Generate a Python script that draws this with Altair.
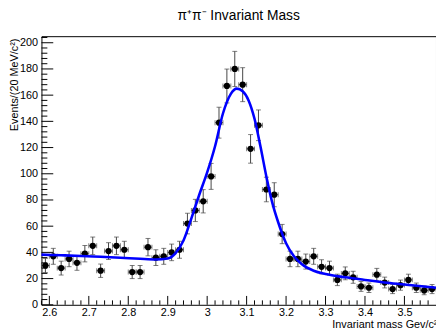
import altair as alt
import pandas as pd

# ---- data ----
bin_centers = [2.59, 2.61, 2.63, 2.65, 2.67, 2.69, 2.71, 2.73, 2.75, 2.77,
               2.79, 2.81, 2.83, 2.85, 2.87, 2.89, 2.91, 2.93, 2.95, 2.97,
               2.99, 3.01, 3.03, 3.05, 3.07, 3.09, 3.11, 3.13, 3.15, 3.17,
               3.19, 3.21, 3.23, 3.25, 3.27, 3.29, 3.31, 3.33, 3.35, 3.37,
               3.39, 3.41, 3.43, 3.45, 3.47, 3.49, 3.51, 3.53, 3.55, 3.57]
counts = [30, 37, 28, 35, 32, 39, 45, 26, 41, 45,
          42, 25, 25, 44, 36, 37, 40, 42, 62, 72,
          79, 98, 139, 167, 180, 168, 119, 137, 88, 84,
          54, 35, 35, 33, 37, 29, 28, 19, 24, 21,
          14, 13, 23, 17, 12, 15, 19, 13, 11, 12]
half_bin = 0.01

fit_mass = [2.58, 2.63, 2.68, 2.73, 2.78, 2.83, 2.87, 2.90, 2.92, 2.94,
            2.96, 2.98, 3.00, 3.02, 3.04, 3.06, 3.075, 3.09, 3.105, 3.12,
            3.135, 3.15, 3.165, 3.18, 3.20, 3.22, 3.24, 3.27, 3.30, 3.35,
            3.40, 3.45, 3.50, 3.58]
fit_vals = [38.3, 37.8, 37.3, 36.6, 35.9, 35.1, 34.6, 35.3, 39.5, 49,
            66, 84, 101, 121, 146, 161, 165, 163, 156, 142,
            121, 98, 78, 63, 47, 37, 31, 26, 23.5, 21,
            19, 17, 15.5, 13]

x_major = [2.6, 2.7, 2.8, 2.9, 3.0, 3.1, 3.2, 3.3, 3.4, 3.5]
x_minor = [2.58, 2.62, 2.64, 2.66, 2.68, 2.72, 2.74, 2.76, 2.78, 2.82, 2.84,
           2.86, 2.88, 2.92, 2.94, 2.96, 2.98, 3.02, 3.04, 3.06, 3.08, 3.12,
           3.14, 3.16, 3.18, 3.22, 3.24, 3.26, 3.28, 3.32, 3.34, 3.36, 3.38,
           3.42, 3.44, 3.46, 3.48, 3.52, 3.54, 3.56]
y_major = [0, 20, 40, 60, 80, 100, 120, 140, 160, 180, 200]
y_minor = [4, 8, 12, 16, 24, 28, 32, 36, 44, 48, 52, 56, 64, 68, 72, 76,
           84, 88, 92, 96, 104, 108, 112, 116, 124, 128, 132, 136, 144, 148,
           152, 156, 164, 168, 172, 176, 184, 188, 192, 196, 204]

x_domain = [2.58, 3.58]
y_domain = [0, 205]

title_text = "π⁺π⁻ Invariant Mass"
y_title = "Events/(20 MeV/c²)"
x_title = "Invariant mass Gev/c²"

# ---- layout ----
W, H = 401, 273
FONT = "Liberation Sans"

hist = pd.DataFrame({"mass": bin_centers, "n": counts})
fit = pd.DataFrame({"mass": fit_mass, "f": fit_vals})

xs = alt.Scale(domain=x_domain, nice=False, zero=False)
ys = alt.Scale(domain=y_domain, nice=False, zero=False)

x_axis = alt.Axis(values=x_major, format="~g", tickSize=0, domain=False, grid=False,
                  labelFont=FONT, labelFontSize=11, labelColor="black", labelPadding=2,
                  title=x_title, titleFont=FONT, titleFontSize=11, titleFontWeight="normal",
                  titleColor="black", titleAnchor="end", titleAlign="right",
                  titleX=W + 1, titleY=23, titleBaseline="alphabetic")
y_axis = alt.Axis(values=y_major, tickSize=0, domain=False, grid=False,
                  labelFont=FONT, labelFontSize=11, labelColor="black", labelPadding=4,
                  title=y_title, titleFont=FONT, titleFontSize=11, titleFontWeight="normal",
                  titleColor="black", titleAngle=270, titleAlign="right",
                  titleBaseline="top", titleX=-33, titleY=2)

X = lambda f: alt.X(f, scale=xs, axis=x_axis)
Y = lambda f: alt.Y(f, scale=ys, axis=y_axis)

base = alt.Chart(hist).transform_calculate(
    lo="datum.n - sqrt(datum.n)",
    hi="datum.n + sqrt(datum.n)",
    xlo=f"datum.mass - {half_bin}",
    xhi=f"datum.mass + {half_bin}",
)
ERR = "#444"
err_v = base.mark_rule(color=ERR, strokeWidth=1).encode(x=X("mass:Q"), y=Y("lo:Q"), y2="hi:Q")
cap_lo = base.mark_tick(color=ERR, orient="horizontal", size=5, thickness=1).encode(
    x=X("mass:Q"), y=Y("lo:Q"))
cap_hi = base.mark_tick(color=ERR, orient="horizontal", size=5, thickness=1).encode(
    x=X("mass:Q"), y=Y("hi:Q"))
err_h = base.mark_rule(color=ERR, strokeWidth=1).encode(x=X("xlo:Q"), x2="xhi:Q", y=Y("n:Q"))
cap_l = base.mark_tick(color=ERR, orient="vertical", size=5, thickness=1).encode(
    x=X("xlo:Q"), y=Y("n:Q"))
cap_r = base.mark_tick(color=ERR, orient="vertical", size=5, thickness=1).encode(
    x=X("xhi:Q"), y=Y("n:Q"))

points = alt.Chart(hist).mark_point(filled=True, shape="circle", size=40,
                                    color="black", opacity=1).encode(
    x=X("mass:Q"), y=Y("n:Q"))

curve = alt.Chart(fit).mark_line(color="#0000ff", strokeWidth=2.6,
                                 interpolate="monotone").encode(
    x=X("mass:Q"), y=Y("f:Q"))

def xticks(vals, length):
    return alt.Chart(pd.DataFrame({"v": vals})).mark_rule(color="black", strokeWidth=1).encode(
        x=X("v:Q"), y=alt.value(H), y2=alt.value(H - length))

def yticks(vals, length):
    return alt.Chart(pd.DataFrame({"v": vals})).mark_rule(color="black", strokeWidth=1).encode(
        y=Y("v:Q"), x=alt.value(0), x2=alt.value(length))

chart = alt.layer(
    err_v, cap_lo, cap_hi, err_h, cap_l, cap_r, points, curve,
    xticks(x_major, 9), xticks(x_minor, 4.5),
    yticks(y_major, 12), yticks(y_minor, 6),
).properties(
    width=W, height=H,
    background="white",
    title=alt.TitleParams(title_text, font=FONT, fontSize=14, fontWeight="normal",
                          color="black", anchor="middle", offset=13),
    autosize=alt.AutoSizeParams(type="none"),
    padding={"left": 34, "top": 26, "right": 0, "bottom": 25},
).configure_view(
    stroke="black", strokeWidth=1
)

chart.save("out.html", embed_options={"renderer": "svg", "actions": False})
